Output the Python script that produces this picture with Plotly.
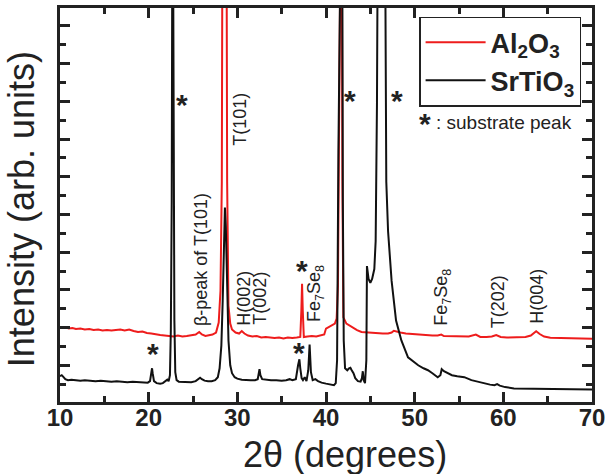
import plotly.graph_objects as go

# 2-theta (degrees) and intensity (arb. units)
sto_two_theta = [10.0, 10.2, 10.4, 10.6, 10.9, 11.3, 11.8, 12.3, 12.8, 13.4, 14.0, 14.6, 15.2, 15.8,
                 16.4, 17.0, 17.6, 18.2, 18.8, 19.4, 19.9, 20.15, 20.3, 20.38, 20.45, 20.6, 20.9, 21.3,
                 21.6, 21.9, 22.1, 22.25, 22.4, 22.5, 22.6, 22.7, 22.8, 22.9, 23.0, 23.15, 23.4, 23.8,
                 24.3, 24.8, 25.3, 25.6, 25.8, 26.0, 26.3, 26.7, 27.1, 27.5, 27.8, 28.0, 28.2, 28.35,
                 28.5, 28.6, 28.7, 28.85, 29.0, 29.2, 29.4, 29.7, 30.0, 30.5, 31.0, 31.5, 32.0, 32.3,
                 32.5, 32.6, 32.8, 33.2, 33.8, 34.4, 35.0, 35.5, 35.9, 36.2, 36.6, 36.85, 37.0, 37.1,
                 37.25, 37.4, 37.6, 37.8, 38.0, 38.15, 38.3, 38.5, 38.8, 39.1, 39.5, 40.0, 40.5, 40.9,
                 41.1, 41.25, 41.4, 41.45, 41.8, 41.9, 42.0, 42.15, 42.4, 42.6, 42.75, 42.9, 43.1, 43.3,
                 43.6, 43.9, 44.05, 44.15, 44.25, 44.4, 44.55, 44.62, 44.8, 45.0, 45.2, 45.45, 45.6,
                 45.75, 45.9, 46.6, 46.7, 46.8, 47.0, 47.4, 47.9, 48.5, 49.25, 49.8, 50.4, 51.0, 51.5,
                 52.0, 52.6, 52.9, 53.05, 53.3, 53.7, 54.2, 54.8, 55.6, 56.4, 57.2, 57.9, 58.5, 59.0,
                 59.3, 59.6, 60.2, 61.2, 62.5, 64.0, 65.5, 67.0, 68.5, 70.0]
sto_intensity = [26, 27, 25, 23, 22, 22.5, 22, 21.5, 22, 21.5, 21, 21.5, 21, 20.5,
                 21, 20.5, 20, 20.5, 20, 20, 19.5, 21, 30, 34, 29, 21, 19, 18.5,
                 19, 21, 22.5, 21, 27, 72, 202, 600, 252, 82, 30, 22, 20.5, 20.5,
                 20.5, 20, 21, 23, 24.5, 23, 21.5, 21, 21, 22, 25, 34, 57, 102,
                 172, 196, 177, 112, 62, 37, 29, 25, 23.5, 22.5, 22, 22, 22, 23,
                 33, 27, 23, 22.5, 22, 22, 21.5, 22, 23, 22, 23, 37, 43, 34,
                 24, 22, 25, 21, 32, 58, 30, 22, 23, 21, 19.5, 18.5, 17.5, 17,
                 19, 42, 252, 600, 600, 202, 62, 34, 32, 34, 34.5, 32, 29, 24,
                 21, 20.5, 24, 31, 22, 19, 42, 137, 124, 120, 124, 134, 162,
                 302, 600, 600, 397, 222, 172, 122, 82, 62, 45, 41, 37, 34, 32,
                 29, 25, 27, 33, 31, 29, 27, 26, 25, 22, 20, 18.7, 17.5, 17,
                 18, 16.5, 15, 13.7, 13.5, 13, 13, 12.7, 13, 12.7]

al_two_theta = [10.0, 10.3, 10.6, 11.0, 11.4, 11.8, 12.3, 12.8, 13.3, 13.8, 14.3, 14.8, 15.3, 15.8,
                16.3, 16.8, 17.3, 17.8, 18.3, 18.8, 19.3, 19.8, 20.3, 20.8, 21.3, 21.8, 22.3, 22.8,
                23.3, 23.8, 24.3, 24.8, 25.3, 25.7, 26.0, 26.4, 26.8, 27.2, 27.6, 27.9, 28.1, 28.25,
                28.35, 28.75, 28.85, 29.0, 29.2, 29.4, 29.8, 30.2, 30.5, 30.8, 31.2, 31.7, 32.2, 32.7,
                33.2, 33.7, 34.2, 34.7, 35.2, 35.7, 36.2, 36.7, 37.1, 37.22, 37.3, 37.38, 37.5, 37.9,
                38.4, 38.9, 39.4, 39.8, 40.0, 40.3, 40.7, 41.0, 41.2, 41.35, 41.45, 41.5, 41.75, 41.85,
                41.96, 42.3, 42.9, 43.5, 44.0, 44.6, 45.2, 45.8, 46.4, 47.0, 47.4, 47.65, 47.9, 48.4,
                49.0, 49.6, 50.2, 50.8, 51.4, 52.0, 52.6, 53.0, 53.3, 54.0, 54.7, 55.4, 56.1, 56.9,
                57.4, 58.1, 58.7, 59.2, 59.7, 60.4, 61.1, 61.8, 62.5, 63.1, 63.7, 64.1, 64.6, 65.3,
                66.0, 66.8, 67.6, 68.4, 69.2, 70.0]
al_intensity = [75.5, 74.5, 75.2, 74, 74.5, 73.5, 74, 73, 73.5, 72.5, 73, 72, 72.5, 72,
                72.5, 73, 72, 73, 71.5, 70.5, 71, 69.5, 69, 68, 67.5, 67, 66.5, 66,
                67, 66, 66.5, 67, 68, 70.5, 68, 66.5, 67, 68, 70, 80, 112, 222,
                600, 600, 222, 97, 79, 73, 70, 69, 71.5, 69, 67, 66, 66.5, 65,
                65.5, 65, 64.5, 65, 64, 65, 64.5, 65, 65.5, 92, 119, 92, 65.5, 66,
                66.5, 66, 67, 68, 74, 75.5, 77, 79, 84, 117, 252, 600, 600, 222,
                85.3, 79, 75.3, 72.5, 70.5, 70, 69.5, 69, 69, 69, 70, 71.8, 71, 70,
                69, 68.5, 68, 67.5, 67.5, 67, 67, 68, 66.5, 66.5, 66, 66, 66, 68,
                65.5, 65.5, 66, 67.5, 65.5, 65, 65, 65, 65.5, 67, 71.3, 68.5, 66, 64.7,
                64.5, 64, 64.5, 64, 64, 63.7]

# peak labels
peak_labels = ["β-peak of T(101)", "T(101)", "H(002)", "T(002)", "Fe<sub>7</sub>Se<sub>8</sub>",
               "Fe<sub>7</sub>Se<sub>8</sub>", "T(202)", "H(004)"]
peak_label_x = [25.9, 30.36, 30.75, 32.54, 38.9, 53.2, 59.35, 63.8]
peak_label_y = [144, 285, 105, 105, 109, 105, 101, 106]

# substrate peak markers
star_x = [23.8, 42.7, 48.0, 20.47, 37.0, 37.3, 51.12]
star_y = [300, 304, 304, 49, 50, 133, 281]

FONT = "Arial, Liberation Sans, sans-serif"
INK = "#222"

fig = go.Figure()
fig.add_trace(go.Scatter(x=al_two_theta, y=al_intensity, mode="lines",
                         name="Al<sub>2</sub>O<sub>3</sub>",
                         line=dict(color="#ee1c1c", width=2)))
fig.add_trace(go.Scatter(x=sto_two_theta, y=sto_intensity, mode="lines",
                         name="SrTiO<sub>3</sub>",
                         line=dict(color="#111111", width=2)))

for t, x, y in zip(peak_labels, peak_label_x, peak_label_y):
    fig.add_annotation(x=x, y=y, text=t, textangle=-90, showarrow=False,
                       xanchor="center", yanchor="middle",
                       font=dict(family=FONT, size=18, color=INK))

for x, y in zip(star_x, star_y):
    fig.add_annotation(x=x, y=y, text="<b>*</b>", showarrow=False,
                       xanchor="center", yanchor="middle",
                       font=dict(family=FONT, size=30, color=INK))

fig.add_annotation(x=52.2, y=282, text=": substrate peak",
                   showarrow=False, xanchor="left", yanchor="middle",
                   font=dict(family=FONT, size=19, color=INK))

# axis titles
fig.add_annotation(xref="paper", yref="paper", x=0.535, y=-0.133, text="2θ (degrees)",
                   showarrow=False, xanchor="center", yanchor="middle",
                   font=dict(family=FONT, size=36, color=INK))
fig.add_annotation(xref="paper", yref="paper", x=-0.071, y=0.49, text="Intensity (arb. units)",
                   textangle=-90, showarrow=False, xanchor="center", yanchor="middle",
                   font=dict(family=FONT, size=36, color=INK))

axis_common = dict(showline=True, linewidth=2.5, linecolor=INK, mirror="ticks",
                   ticks="inside", tickwidth=2.5, tickcolor=INK, showgrid=False,
                   zeroline=False)

fig.update_xaxes(range=[10, 70], dtick=10, ticklen=10, ticklabelstandoff=-8,
                 minor=dict(dtick=5, ticks="inside", ticklen=6, tickwidth=2.5, tickcolor=INK),
                 tickfont=dict(family=FONT, size=24, color=INK, weight="bold"),
                 **axis_common)
fig.update_yaxes(range=[0, 397], tick0=37, dtick=38, ticklen=10, showticklabels=False,
                 minor=dict(dtick=19, tick0=18, ticks="inside", ticklen=6, tickwidth=2.5, tickcolor=INK),
                 **axis_common)

fig.update_layout(
    width=610, height=474,
    margin=dict(l=60, r=15, t=5, b=72),
    paper_bgcolor="white", plot_bgcolor="white",
    showlegend=True,
    legend=dict(x=0.675, y=0.978, xanchor="left", yanchor="top",
                bordercolor=INK, borderwidth=1.5, bgcolor="white",
                font=dict(family=FONT, size=27, color=INK, weight="bold"),
                tracegroupgap=0, itemwidth=60),
)

fig.write_html("out.html", config={"displayModeBar": False},
               post_script="document.body.style.margin='0';")
